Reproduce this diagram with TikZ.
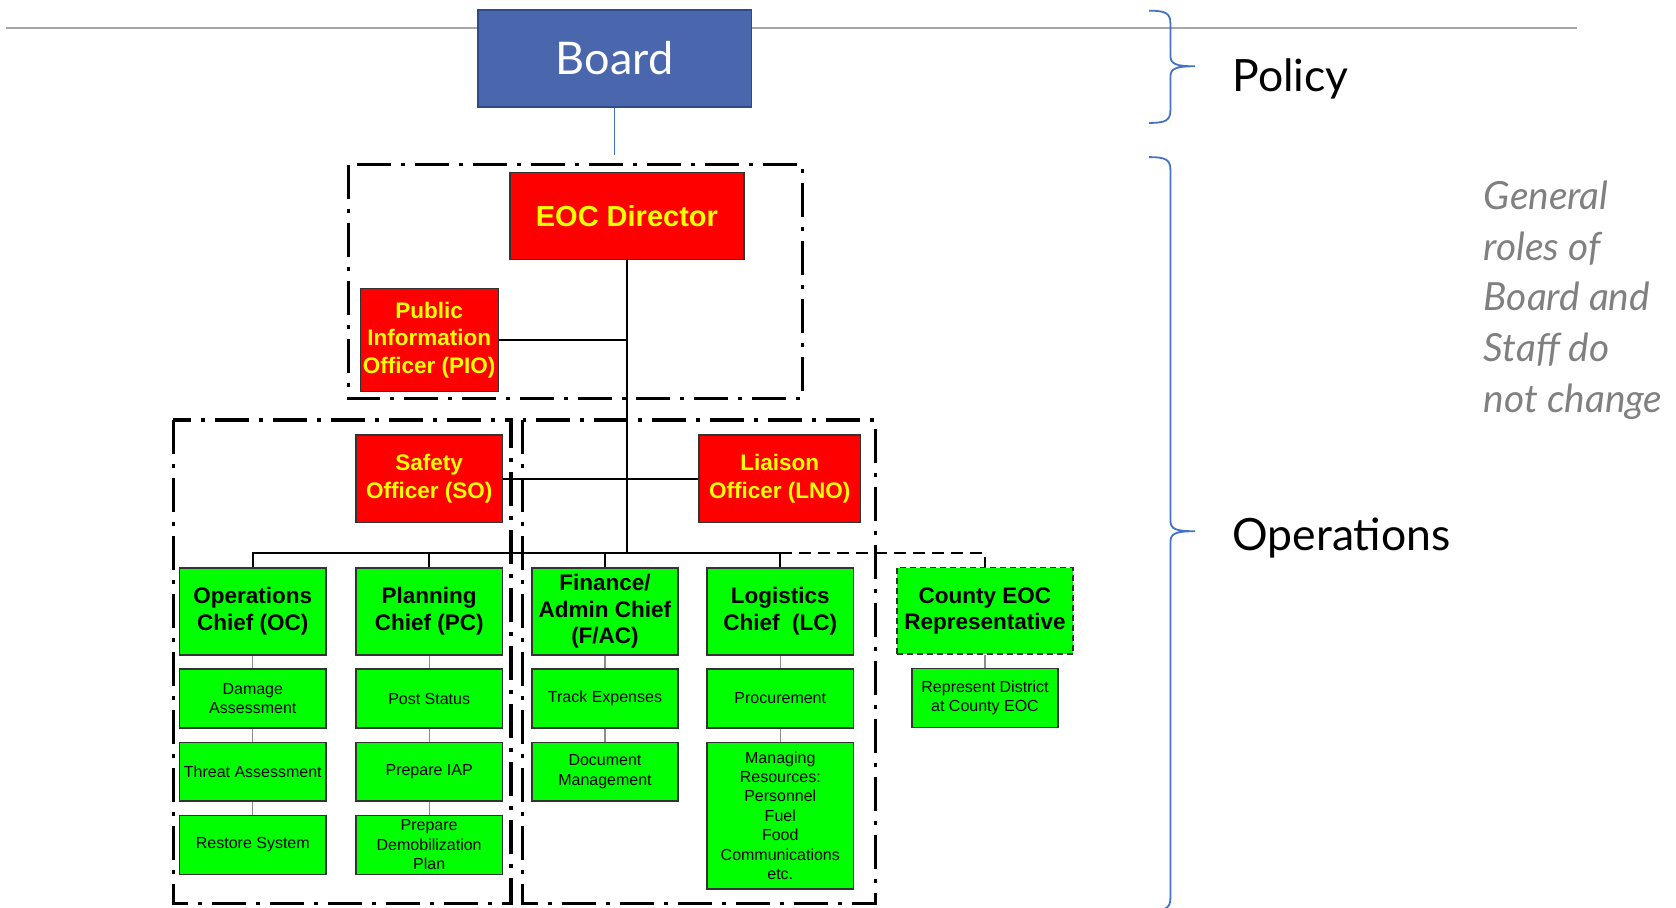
\documentclass[tikz,border=0pt]{standalone}
\usepackage{fontspec}
\setmainfont{Liberation Sans}
\newfontfamily\gillfont{Lato}
\usetikzlibrary{positioning}

\definecolor{boardblue}{HTML}{4A66AC}
\definecolor{boardedge}{HTML}{2F4A85}
\definecolor{bracketblue}{HTML}{4472C4}
\definecolor{eocred}{HTML}{FF0000}
\definecolor{eocyellow}{HTML}{FFFF00}
\definecolor{chiefgreen}{HTML}{00FF00}
\definecolor{notegray}{HTML}{808080}
\definecolor{rulegray}{HTML}{A6A6A6}

\begin{document}
\begin{tikzpicture}[
  x=1.0689pt, y=-1.0689pt,
  node distance=12.8pt,
  boardbox/.style={
    draw=boardedge,
    line width=1.8pt,
    fill=boardblue,
    text=white,
    minimum width=273.6pt,
    minimum height=97.3pt,
    font=\gillfont\fontsize{45}{45}\selectfont
  },
  redbox/.style={
    draw=black!80,
    line width=1.2pt,
    fill=eocred,
    text=eocyellow,
    align=center,
    inner sep=2pt,
    font=\bfseries\fontsize{22.5}{27.5}\selectfont
  },
  chiefbox/.style={
    draw=black!80,
    line width=1.6pt,
    fill=chiefgreen,
    align=center,
    inner sep=2pt,
    minimum width=146.4pt,
    minimum height=86.6pt,
    font=\bfseries\fontsize{22.5}{26.7}\selectfont
  },
  taskbox/.style={
    draw=black!80,
    line width=1.6pt,
    fill=chiefgreen,
    align=center,
    inner sep=2pt,
    minimum width=146.4pt,
    minimum height=58.8pt,
    font=\fontsize{16}{19.4}\selectfont
  },
  sidelabel/.style={
    anchor=base west,
    inner sep=0pt,
    font=\gillfont\fontsize{44.5}{44.5}\selectfont
  },
  notelabel/.style={
    anchor=base west,
    inner sep=0pt,
    align=left,
    text=notegray,
    font=\gillfont\itshape\fontsize{38.8}{50.8}\selectfont
  },
  conn/.style={line width=2.2pt},
  subconn/.style={line width=1.2pt, draw=black!45},
  groupline/.style={line width=3.2pt, dash pattern=on 34pt off 10pt on 4pt off 10pt},
  bracket/.style={draw=bracketblue, line width=1.8pt}
]
\useasboundingbox (0,0) rectangle (1568,849);

% top rule and the two braces
\coordinate (ruleleft) at (6,26);
\coordinate (ruleright) at (1475,26);
\draw[rulegray, line width=1.5pt] (ruleleft) -- (ruleright);
\draw[bracket] (1075,10) .. controls (1090,10) and (1095,12) .. (1095,22) -- (1095,52)
  .. controls (1095,60) and (1100,62) .. (1118,62)
  .. controls (1100,62) and (1095,64) .. (1095,72) -- (1095,103)
  .. controls (1095,113) and (1090,115) .. (1075,115);
\draw[bracket] (1075,147) .. controls (1090,147) and (1095,149) .. (1095,159) -- (1095,487)
  .. controls (1095,495) and (1100,497) .. (1118,497)
  .. controls (1100,497) and (1095,499) .. (1095,507) -- (1095,840)
  .. controls (1095,850) and (1090,852) .. (1075,852);

\node[sidelabel] (policy) at (1153,86) {Policy};
\node[sidelabel] (operations) at (1153,515) {Operations};
\node[notelabel] (note) at (1388,386) {General\\roles of\\Board and\\Staff do\\not change};

% dash-dot groups
\draw[groupline] (326,154) rectangle (751,373);
\draw[groupline] (162,393) rectangle (478,845);
\draw[groupline] (489,393) rectangle (819,845);

% boxes
\node[boardbox] (board) at (575,54.5) {Board};
\node[redbox, minimum width=234pt, minimum height=87.6pt,
  font=\bfseries\fontsize{29}{34}\selectfont] (eoc) at (586.5,202) {EOC Director};
\node[redbox, minimum width=138pt, minimum height=102.6pt] (pio) at (401.5,318)
{Public\\Information\\Officer (PIO)};
\node[redbox, minimum width=146.4pt, minimum height=87.6pt] (so) at (401.5,448)
{Safety\\Officer (SO)};
\node[redbox, minimum width=161.4pt, minimum height=87.6pt] (lno) at (729.5,448)
{Liaison\\Officer (LNO)};

\node[chiefbox] (oc) at (236.5,572) {Operations\\Chief (OC)};
\node[chiefbox] (pc) at (401.5,572) {Planning\\Chief (PC)};
\node[chiefbox] (fac) at (566,572) {Finance/\\Admin Chief\\(F/AC)};
\node[chiefbox] (lc) at (730,572) {Logistics\\Chief\ \ (LC)};
\node[chiefbox, dash pattern=on 6pt off 4pt, minimum width=176.4pt] (county)
  at (921.5,571.5) {County EOC\\Representative};

\node[taskbox, below=of oc] (damage) {Damage\\Assessment};
\node[taskbox, below=of damage] (threat) {Threat Assessment};
\node[taskbox, below=of threat] (restore) {Restore System};
\node[taskbox, below=of pc] (post) {Post Status};
\node[taskbox, below=of post] (iap) {Prepare IAP};
\node[taskbox, below=of iap] (demob) {Prepare\\Demobilization\\Plan};
\node[taskbox, below=of fac] (track) {Track Expenses};
\node[taskbox, below=of track] (docs) {Document\\Management};
\node[taskbox, below=of lc] (procure) {Procurement};
\node[taskbox, below=of procure, minimum height=146.4pt] (manage)
{Managing\\Resources:\\Personnel\\Fuel\\Food\\Communications\\etc.};
\node[taskbox, below=of county] (represent) {Represent District\\at County EOC};

% connectors
\coordinate (boardlink) at (575,145);
\coordinate (hub) at (586.5,517);
\draw[bracket, line width=1.5pt] (board.south) -- (boardlink);
\draw[conn] (eoc.south) -- (hub);
\draw[conn] (pio.east) -- (pio.east -| eoc.south);
\draw[conn] (so.east) -- (lno.west);
\draw[conn] (oc.north) |- (hub) -| (lc.north);
\draw[conn] (pc.north) -- (pc.north |- hub);
\draw[conn] (fac.north) -- (fac.north |- hub);
\draw[conn, dash pattern=on 12pt off 7pt] (lc.north |- hub) -| (county.north);
\foreach \a/\b in {oc/damage, damage/threat, threat/restore, pc/post, post/iap,
  iap/demob, fac/track, track/docs, lc/procure, procure/manage, county/represent}
  \draw[subconn] (\a) -- (\b);
\end{tikzpicture}
\end{document}
